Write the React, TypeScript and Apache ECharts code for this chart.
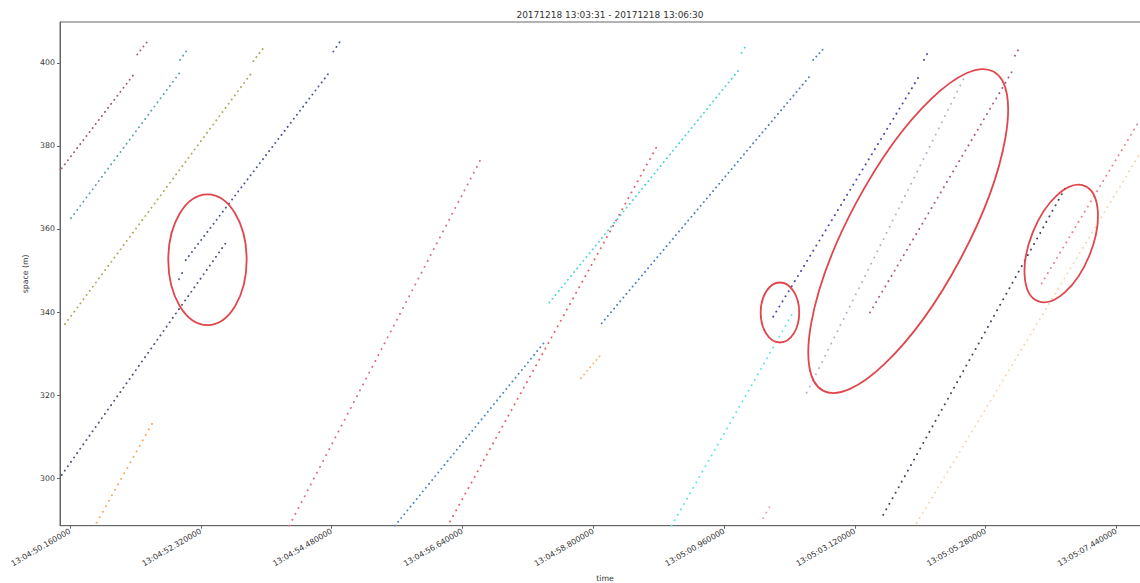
import React, { useEffect, useRef } from "react";
import * as echarts from "echarts";

// ---------- tick labels ----------
const TIME_TICK_VALUES = [50.16, 52.32, 54.48, 56.64, 58.8, 60.96, 63.12, 65.28, 67.44]; // seconds after 13:04:00
const TIME_TICK_LABELS = [
  "13:04:50.160000",
  "13:04:52.320000",
  "13:04:54.480000",
  "13:04:56.640000",
  "13:04:58.800000",
  "13:05:00.960000",
  "13:05:03.120000",
  "13:05:05.280000",
  "13:05:07.440000",
];
const SPACE_TICKS = [300, 320, 340, 360, 380, 400];
const TITLE = "20171218 13:03:31 - 20171218 13:06:30";

// ---------- trajectories: segments of [time (s after 13:04:00), space (m)] ----------
const trackA = [[[50.023, 374.6], [51.233, 397.6]], [[51.271, 402.0], [51.436, 405.1]]];
const trackB = [[[50.177, 362.6], [51.965, 397.5]], [[51.976, 400.7], [52.087, 402.9]]];
const trackC = [[[50.077, 337.1], [53.144, 397.3]], [[53.187, 400.4], [53.352, 403.5]]];
const trackD1 = [[[50.023, 300.8], [52.736, 356.7]]];
const trackD2 = [[[51.96, 347.9], [52.021, 349.7]], [[52.071, 352.5], [54.453, 397.9]], [[54.508, 402.7], [54.646, 405.7]]];
const trackE = [[[50.599, 289.3], [51.564, 314.4]]];
const trackF = [[[53.781, 288.6], [56.947, 376.9]]];
const trackG = [[[55.527, 288.6], [58.003, 332.9]]];
const trackH = [[[56.435, 289.6], [59.864, 380.2]]];
const trackI = [[[58.076, 342.3], [61.195, 398.1]], [[61.251, 402.4], [61.344, 404.7]]];
const trackJ = [[[58.94, 337.3], [62.407, 397.3]], [[62.433, 400.7], [62.61, 403.5]]];
const trackR = [[[58.598, 324.1], [58.912, 329.5]]];
const trackK = [[[60.095, 288.6], [62.077, 339.3]]];
const trackS = [[[61.607, 290.4], [61.718, 293.3]]];
const trackL = [[[61.773, 338.9], [64.196, 397.1]], [[64.262, 400.7], [64.35, 403.1]]];
const trackM = [[[62.325, 320.6], [64.939, 396.8]]];
const trackN = [[[63.37, 339.9], [65.72, 398.0]], [[65.764, 401.7], [65.819, 403.1]]];
const trackO = [[[63.59, 291.2], [66.607, 370.2]]];
const trackP = [[[66.205, 346.9], [67.829, 386.3]]];
const trackQ = [[[64.14, 289.2], [67.829, 378.2]]];

const TRACKS = [trackA, trackB, trackC, trackD1, trackD2, trackE, trackF, trackG, trackH, trackI, trackJ, trackR, trackK, trackS, trackL, trackM, trackN, trackO, trackP, trackQ];
const TRACK_COLORS = [
  "#a25a64", "#5a9eac", "#b2a85a", "#4a5478", "#4a549c", "#f2a860", "#d46e86", "#4a86c8", "#e45e68", "#4cd2d8",
  "#4e7cc4", "#f5b478", "#62e4e4", "#e6aabb", "#4646a4", "#bcaecb", "#a8588c", "#3e4558", "#e4868a", "#f5d7b3",
];

// ---------- annotation ellipses ----------
const ELLIPSE_CENTERS = [[52.43, 352.6], [61.884, 339.9], [64.002, 359.5], [66.529, 356.5]];
const ELLIPSE_RADII = [[39.2, 65.3], [19.3, 30], [180.9, 59.2], [62.2, 30.6]];
const ELLIPSE_ROTATION_DEG = [0, 0, 61.9, 68];

const X_MIN = 49.995;
const X_MAX = 67.995;
const Y_MIN = 288.59;
const Y_MAX = 409.82;
const GRID = { left: 60, top: 22, width: 1090, height: 503.7 };
const SAMPLE_DT = 0.05;
const FONT = "DejaVu Sans";

export default function App() {
  const ref = useRef<HTMLDivElement>(null);

  useEffect(() => {
    if (!ref.current) return;
    const chart = echarts.init(ref.current, undefined, { renderer: "svg" });
    const pxPerS = GRID.width / (X_MAX - X_MIN);
    const pxPerM = GRID.height / (Y_MAX - Y_MIN);

    const series: any[] = [];
    TRACKS.forEach((track, ti) => {
      track.forEach((seg) => {
        const dt = seg[1][0] - seg[0][0];
        const dv = seg[1][1] - seg[0][1];
        const speed = dv / dt;
        const period = Math.hypot(SAMPLE_DT * pxPerS, SAMPLE_DT * speed * pxPerM);
        series.push({
          type: "line",
          data: seg,
          symbol: "none",
          silent: true,
          animation: false,
          lineStyle: { color: TRACK_COLORS[ti], width: 1.9, type: [0.1, period], cap: "round" },
        });
      });
    });

    const fmt = (value: number) => {
      const i = TIME_TICK_VALUES.findIndex((t) => Math.abs(t - value) < 1e-6);
      return i >= 0 ? TIME_TICK_LABELS[i] : "";
    };

    chart.setOption({
      animation: false,
      backgroundColor: "#ffffff",
      title: {
        text: TITLE,
        left: GRID.left + GRID.width / 2,
        textAlign: "center",
        top: 5,
        textStyle: { fontFamily: FONT, fontSize: 9, fontWeight: "normal", color: "#333" },
      },
      grid: { ...GRID, show: true, borderColor: "#666", borderWidth: 1, containLabel: false, outerBoundsMode: "none" },
      xAxis: {
        type: "value",
        min: X_MIN,
        max: X_MAX,
        name: "time",
        nameLocation: "middle",
        nameGap: 48,
        nameTextStyle: { fontFamily: FONT, fontSize: 7.8, color: "#333", verticalAlign: "top" },
        axisLine: { show: true, lineStyle: { color: "#666" } },
        axisTick: { show: true, customValues: TIME_TICK_VALUES, length: 3, lineStyle: { color: "#666" } },
        axisLabel: { customValues: TIME_TICK_VALUES, rotate: 30, formatter: fmt, fontFamily: FONT, fontSize: 7.8, color: "#333", margin: 5 },
        splitLine: { show: false },
      },
      yAxis: {
        type: "value",
        min: Y_MIN,
        max: Y_MAX,
        name: "space (m)",
        nameLocation: "middle",
        nameGap: 21,
        nameTextStyle: { fontFamily: FONT, fontSize: 7.8, color: "#333" },
        axisLine: { show: true, lineStyle: { color: "#666" } },
        axisTick: { show: true, customValues: SPACE_TICKS, length: 3, lineStyle: { color: "#666" } },
        axisLabel: { customValues: SPACE_TICKS, fontFamily: FONT, fontSize: 7.8, color: "#333", margin: 5 },
        splitLine: { show: false },
      },
      series,
    });

    const graphics = ELLIPSE_CENTERS.map((c, i) => {
      const p = chart.convertToPixel({ gridIndex: 0 }, c) as number[];
      return {
        type: "ellipse",
        x: p[0],
        y: p[1],
        rotation: (ELLIPSE_ROTATION_DEG[i] * Math.PI) / 180,
        shape: { cx: 0, cy: 0, rx: ELLIPSE_RADII[i][0], ry: ELLIPSE_RADII[i][1] },
        style: { fill: "none", stroke: "#e0474c", lineWidth: 1.8 },
        silent: true,
        z: 100,
      };
    });
    chart.setOption({ graphic: graphics });

    return () => chart.dispose();
  }, []);

  return <div ref={ref} style={{ position: "fixed", left: 0, top: 0, width: 1140, height: 583 }} />;
}
